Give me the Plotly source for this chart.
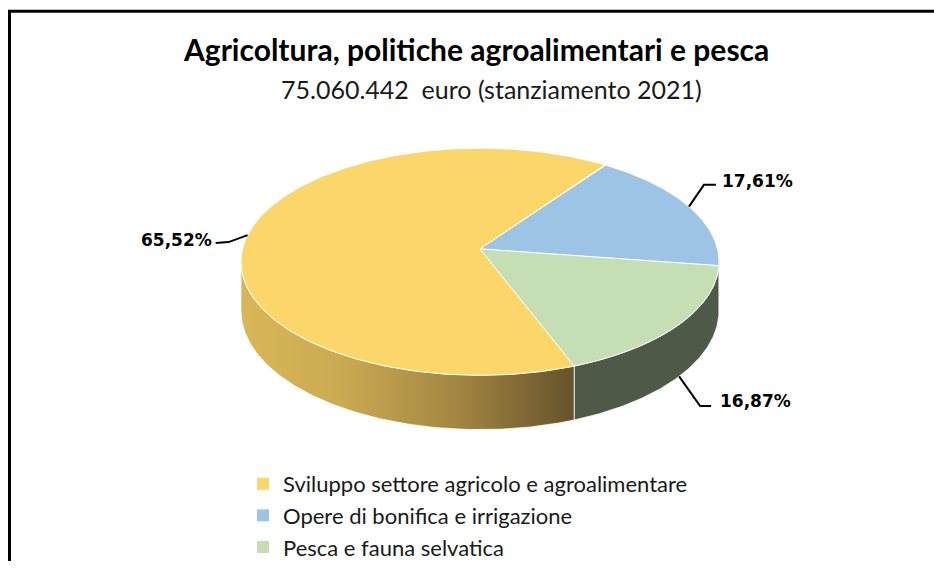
import numpy as np
import plotly.graph_objects as go

# ---------------- data ----------------
categories = ["Sviluppo settore agricolo e agroalimentare",
              "Opere di bonifica e irrigazione",
              "Pesca e fauna selvatica"]
shares = [65.52, 17.61, 16.87]
pct_labels = ["65,52%", "17,61%", "16,87%"]
title_text = "Agricoltura, politiche agroalimentari e pesca"
subtitle_text = "75.060.442\u00a0\u00a0euro (stanziamento 2021)"

# ---------------- style ----------------
W, H = 934, 568
top_colors = ["#FAD768", "#9DC3E5", "#C5DEB3"]
side_colors = ["#B8994A", "#4A5A6B", "#4E5948"]
yellow_side_scale = [[0, "#D9B757"], [0.3, "#CBAA52"], [0.65, "#A28642"], [1, "#66522A"]]
CX, CY, A, B, K, D = 480, 252, 237.5, 113.5, -0.113, 48.8
FIRST_ANGLE = 159.2
leader_style = [
    dict(elbow=(-19, 7), end=(-32, 8), tdx=-2, tdy=-3, xanchor="right"),
    dict(elbow=(15, -22), end=(27, -22), tdx=4, tdy=-4, xanchor="left"),
    dict(elbow=(21, 30), end=(32, 30), tdx=7, tdy=-5, xanchor="left"),
]


def proj(theta, drop=0.0):
    t = np.radians(theta)
    u, v = np.sin(t), -np.cos(t)
    den = 1 + K * v
    return CX + A * u / den, CY + (B * v + drop) / den


th_s1 = np.degrees(np.arccos(K))
th_s2 = 360 - th_s1

total = sum(shares)
angles = []
a = FIRST_ANGLE
for s in shares:
    span = 360 * s / total
    angles.append((a, a + span))
    a += span

fig = go.Figure()

# side walls
for i, (a0, a1) in enumerate(angles):
    for n in (-1, 0, 1, 2):
        lo = max(a0, th_s1 + 360 * n)
        hi = min(a1, th_s2 + 360 * n)
        if hi > lo:
            th = np.linspace(lo, hi, 120)
            tx, ty = proj(th)
            bx, by = proj(th, D)
            xs = np.concatenate([tx, bx[::-1], tx[:1]])
            ys = np.concatenate([ty, by[::-1], ty[:1]])
            kw = {}
            if i == 0:
                kw["fillgradient"] = dict(type="horizontal", colorscale=yellow_side_scale,
                                          start=float(xs.min()), stop=float(xs.max()))
            else:
                kw["fillcolor"] = side_colors[i]
            fig.add_trace(go.Scatter(x=xs, y=ys, mode="lines", fill="toself",
                                     line=dict(color="rgba(255,255,255,0.75)", width=1),
                                     hoverinfo="skip", showlegend=False, **kw))

# top faces
for i, (a0, a1) in enumerate(angles):
    th = np.linspace(a0, a1, 240)
    rx, ry = proj(th)
    xs = np.concatenate([[CX], rx, [CX]])
    ys = np.concatenate([[CY], ry, [CY]])
    fig.add_trace(go.Scatter(x=xs, y=ys, mode="lines", fill="toself",
                             fillcolor=top_colors[i],
                             line=dict(color="rgba(255,255,255,0.9)", width=1),
                             hoverinfo="skip", showlegend=False))

# leader lines and labels
annotations = []
for i, (a0, a1) in enumerate(angles):
    mid = (a0 + a1) / 2
    mm = mid % 360
    drop = D if th_s1 < mm < th_s2 else 0.0
    ax, ay = proj(mid, drop)
    st = leader_style[i]
    ex, ey = ax + st["elbow"][0], ay + st["elbow"][1]
    fx, fy = ax + st["end"][0], ay + st["end"][1]
    fig.add_trace(go.Scatter(x=[ax, ex, fx], y=[ay, ey, fy], mode="lines",
                             line=dict(color="black", width=2),
                             hoverinfo="skip", showlegend=False))
    annotations.append(dict(x=fx + st["tdx"], y=fy + st["tdy"], xref="x", yref="y",
                            text=pct_labels[i], showarrow=False, xanchor=st["xanchor"],
                            yanchor="middle",
                            font=dict(family="DejaVu Sans", size=17, color="black", weight="bold")))

# legend entries
for i, cat in enumerate(categories):
    fig.add_trace(go.Scatter(x=[None], y=[None], mode="markers", name=cat,
                             legendgroup=f"g{i}",
                             marker=dict(symbol="square", size=8, color=top_colors[i])))

annotations.append(dict(x=476, y=50, xref="x", yref="y", text=title_text, showarrow=False,
                        xanchor="center", yanchor="middle",
                        font=dict(family="Lato", size=30, color="black", weight="bold")))
annotations.append(dict(x=491, y=90, xref="x", yref="y", text=subtitle_text, showarrow=False,
                        xanchor="center", yanchor="middle",
                        font=dict(family="Lato", size=25, color="#1a1a1a")))

fig.update_layout(
    width=W, height=H,
    margin=dict(l=0, r=0, t=0, b=0),
    paper_bgcolor="white", plot_bgcolor="white",
    xaxis=dict(range=[0, W], visible=False, fixedrange=True),
    yaxis=dict(range=[H, 0], visible=False, fixedrange=True),
    annotations=annotations,
    shapes=[dict(type="rect", xref="x", yref="y", x0=9.5, y0=11.5, x1=W + 20, y1=H + 20,
                 line=dict(color="black", width=3), layer="above")],
    showlegend=True,
    legend=dict(x=243 / W, y=1 - 469 / H, xanchor="left", yanchor="top",
                bgcolor="rgba(0,0,0,0)", font=dict(family="Lato", size=22, color="#1a1a1a"),
                tracegroupgap=0, itemsizing="constant"),
)

fig.write_html("out.html", config={"displayModeBar": False},
               post_script="document.body.style.margin='0';document.body.style.overflow='hidden';")
